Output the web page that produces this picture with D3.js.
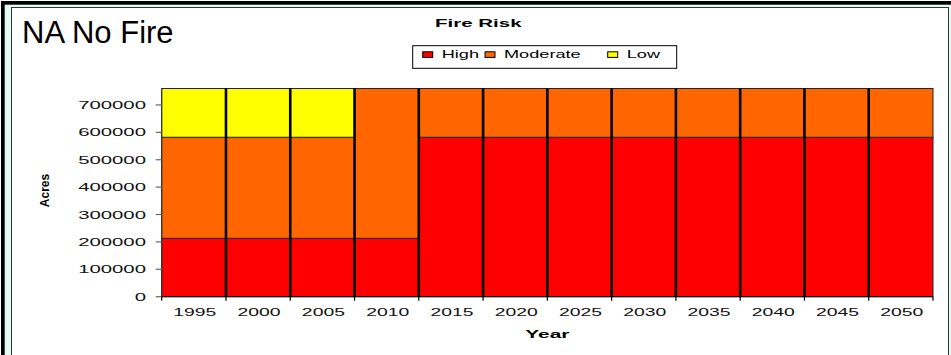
<!DOCTYPE html>
<html>
<head>
<meta charset="utf-8">
<script src="https://cdn.jsdelivr.net/npm/d3@7/dist/d3.min.js"></script>
<style>
  html,body{margin:0;padding:0;background:#fff;}
  svg{display:block;font-family:"Liberation Sans",Arial,sans-serif;}
</style>
</head>
<body>
<div id="chart"></div>
<script>
// data
const years = ['1995','2000','2005','2010','2015','2020','2025','2030','2035','2040','2045','2050'];
const high     = [213000,213000,213000,213000,582000,582000,582000,582000,582000,582000,582000,582000];
const moderate = [369000,369000,369000,547000,178000,178000,178000,178000,178000,178000,178000,178000];
const low      = [178000,178000,178000,0,0,0,0,0,0,0,0,0];
const yTicks = [0,100000,200000,300000,400000,500000,600000,700000];
const seriesNames = ['High','Moderate','Low'];
const colors = ['#ff0000','#ff6600','#ffff00'];

const W=951, H=355;
const svg = d3.select('#chart').append('svg').attr('width',W).attr('height',H);

// frame
svg.append('rect').attr('x',0).attr('y',0).attr('width',W).attr('height',H).attr('fill','#fff');
svg.append('rect').attr('x',1).attr('y',1).attr('width',W).attr('height',H).attr('fill','#000');
svg.append('rect').attr('x',4.7).attr('y',4.7).attr('width',W).attr('height',H).attr('fill','#e3fbf3');
svg.append('rect').attr('x',11.5).attr('y',7.5).attr('width',937).attr('height',H+10)
  .attr('fill','#fff').attr('stroke','#333').attr('stroke-width',1);

const x0=161.7, x1=933, yTop=88.5, yBot=296.7;
const x = d3.scaleBand().domain(years).range([x0,x1]).padding(0);
const y = d3.scaleLinear().domain([0,760000]).range([yBot,yTop]);

const rows = years.map((yr,i)=>({year:yr, High:high[i], Moderate:moderate[i], Low:low[i]}));
const stack = d3.stack().keys(seriesNames)(rows);

const g = svg.append('g');
stack.forEach((layer,k)=>{
  g.selectAll(null).data(layer.filter(d=>d[1]>d[0])).join('rect')
    .attr('x',d=>x(d.data.year)).attr('width',x.bandwidth())
    .attr('y',d=>y(d[1])).attr('height',d=>y(d[0])-y(d[1]))
    .attr('fill',colors[k]).attr('stroke','#222').attr('stroke-width',1);
});
// heavy dividers between bars
g.selectAll(null).data(years.slice(1)).join('line')
  .attr('x1',d=>x(d)).attr('x2',d=>x(d)).attr('y1',yTop).attr('y2',yBot)
  .attr('stroke','#000').attr('stroke-width',2.6);

// y axis
const ya = svg.append('g');
ya.append('line').attr('x1',x0).attr('x2',x0).attr('y1',yTop).attr('y2',yBot).attr('stroke','#333');
ya.selectAll(null).data(yTicks).join('line')
  .attr('x1',x0-6).attr('x2',x0).attr('y1',d=>y(d)).attr('y2',d=>y(d))
  .attr('stroke','#666').attr('stroke-width',1.2);
ya.selectAll(null).data(yTicks).join('text')
  .attr('transform',d=>`translate(146,${y(d)+4}) scale(1.85,1)`)
  .attr('text-anchor','end').attr('font-size',11).attr('fill','#111')
  .text(d=>d);

// x axis
const xa = svg.append('g');
xa.append('line').attr('x1',x0).attr('x2',x1).attr('y1',yBot).attr('y2',yBot).attr('stroke','#000');
xa.selectAll(null).data(years.map(d=>x(d)).concat([x1])).join('line')
  .attr('x1',d=>d).attr('x2',d=>d).attr('y1',yBot).attr('y2',yBot+4)
  .attr('stroke','#000').attr('stroke-width',1.2);
xa.selectAll(null).data(years).join('text')
  .attr('transform',d=>`translate(${x(d)+x.bandwidth()/2+1},316) scale(1.76,1)`)
  .attr('text-anchor','middle').attr('font-size',11).attr('fill','#111')
  .text(d=>d);

// axis titles
svg.append('text').attr('transform',`translate(${(x0+x1)/2},338) scale(1.9,1)`)
  .attr('text-anchor','middle').attr('font-size',11).attr('font-weight','bold').text('Year');
svg.append('text').attr('transform','translate(49,190.5) rotate(-90)')
  .attr('text-anchor','middle').attr('font-size',12).attr('font-weight','bold').text('Acres');

// titles
svg.append('text').attr('x',22).attr('y',43.3).attr('font-size',31).attr('fill','#000').text('NA No Fire');
svg.append('text').attr('transform','translate(478.3,27.3) scale(2.05,1)')
  .attr('text-anchor','middle').attr('font-size',10).attr('font-weight','bold').text('Fire Risk');

// legend
const leg = svg.append('g');
leg.append('rect').attr('x',412.7).attr('y',45.7).attr('width',264).attr('height',22.6)
  .attr('fill','#fff').attr('stroke','#000');
const legTx = [441.7,504,626.7];
seriesNames.forEach((s,i)=>{
  leg.append('rect').attr('x',legTx[i]-19).attr('y',51.8).attr('width',10).attr('height',5.6)
    .attr('fill',colors[i]).attr('stroke','#000').attr('stroke-width',1);
  leg.append('text').attr('transform',`translate(${legTx[i]},58.3) scale(1.65,1)`)
    .attr('font-size',11).text(s);
});
</script>
</body>
</html>
